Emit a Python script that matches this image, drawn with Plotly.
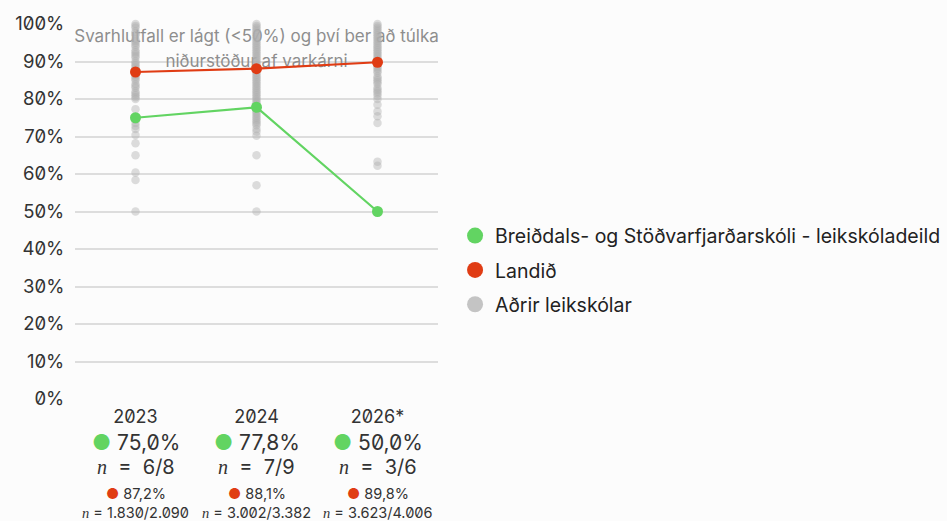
import plotly.graph_objects as go

# Survey years (2026 is preliminary)
years = ["2023", "2024", "2026*"]

# Response rate for the school and for the whole country (%)
school_rate = [75.0, 77.8, 50.0]
national_rate = [87.2, 88.1, 89.8]

# Respondents / invited, shown under each year
school_n = ["6/8", "7/9", "3/6"]
national_n = ["1.830/2.090", "3.002/3.382", "3.623/4.006"]

# Response rates of the other preschools (%)
others_2023 = [100, 99.5, 99, 98, 97.5, 97, 96, 95.5, 95, 94.5, 94, 93, 92.5, 92, 91.5,
               91, 90, 89.5, 89, 88.5, 88, 87.5, 86.5, 86, 85.5, 85, 84, 83.5, 83, 82,
               81.5, 81, 80.5, 80, 77.3, 75.2, 74.5, 73.6, 72.8, 72, 70.4, 68.2, 65,
               60.4, 58.4, 50]
others_2024 = [100, 99.5, 99, 98.5, 98, 97.5, 97, 96.5, 96, 95.5, 95, 94.5, 94, 93.5, 93,
               92.5, 92, 91.5, 91, 90.5, 90, 89.5, 89, 88.5, 88, 87.5, 87, 86.5, 86, 85.5,
               85, 84.5, 84, 83.5, 83, 82.5, 82, 81.5, 81, 80.5, 80, 79.5, 79, 78.5, 78,
               77, 76.5, 76, 75.5, 75, 74.5, 74, 73.5, 73, 72, 71.3, 70.2, 65, 57, 50]
others_2026 = [100, 99.5, 99, 98.5, 98, 97.5, 97, 96.5, 96, 95.5, 95, 94.5, 94, 93.5, 93,
               92.5, 92, 91.5, 91, 90.5, 90, 89, 88.5, 88, 87.5, 87, 86, 85.5, 85, 84.5,
               84, 83, 82.5, 82, 81.5, 80.8, 80, 78.5, 76.7, 75.4, 73.6, 63.3, 62.2]

note_lines = ["Svarhlutfall er lágt (<50%) og því ber að túlka", "niðurstöður af varkárni"]

legend_names = ["Breiðdals- og Stöðvarfjarðarskóli - leikskóladeild", "Landið", "Aðrir leikskólar"]

GREEN = "#62d462"
RED = "#e03c14"
GREY_DOT = "rgba(175,175,175,0.42)"
GREY_LEGEND = "#c4c4c4"
FONT = "Inter"
NBSP = "\u00a0"

fig = go.Figure()

# Low-response note, drawn first so the points sit on top of it
fig.add_trace(go.Scatter(
    x=[years[1]], y=[96.4], mode="text", text=[note_lines[0]],
    textfont=dict(family=FONT, size=17, color="#8e8e8e"),
    hoverinfo="skip", showlegend=False, cliponaxis=False))
fig.add_trace(go.Scatter(
    x=[years[1]], y=[89.8], mode="text", text=[note_lines[1]],
    textfont=dict(family=FONT, size=17, color="#8e8e8e"),
    hoverinfo="skip", showlegend=False, cliponaxis=False))

# Other preschools as faint dots
for yr, vals in zip(years, [others_2023, others_2024, others_2026]):
    fig.add_trace(go.Scatter(
        x=[yr] * len(vals), y=vals, mode="markers",
        marker=dict(size=8.5, color=GREY_DOT, line=dict(width=0)),
        showlegend=False, cliponaxis=False, hoverinfo="y"))

# Country and school lines
fig.add_trace(go.Scatter(
    x=years, y=national_rate, mode="lines+markers",
    line=dict(color=RED, width=2.2), marker=dict(size=11, color=RED),
    showlegend=False, cliponaxis=False))
fig.add_trace(go.Scatter(
    x=years, y=school_rate, mode="lines+markers",
    line=dict(color=GREEN, width=2.2), marker=dict(size=11, color=GREEN),
    showlegend=False, cliponaxis=False))

# Legend entries with solid swatches
for i, (name, col) in enumerate(zip(legend_names, [GREEN, RED, GREY_LEGEND])):
    fig.add_trace(go.Scatter(
        x=[None], y=[None], mode="markers", name=name,
        marker=dict(size=16, color=col), legendgroup=f"g{i}"))

# Per-year summaries under the axis
def fmt(v):
    return f"{v:.1f}".replace(".", ",") + "%"

n_span = '<span style="font-family:Liberation Serif;font-style:italic">n</span>'
wide_eq = f"{NBSP}{NBSP}={NBSP}{NBSP}"
for i, yr in enumerate(years):
    rows = [
        (f'<span style="color:{GREEN}">●</span> {fmt(school_rate[i])}', 21, -43),
        (f"{n_span}{wide_eq}{school_n[i]}", 20, -68),
        (f'<span style="color:{RED}">●</span> {fmt(national_rate[i])}', 14.5, -94),
        (f"{n_span} = {national_n[i]}", 14.5, -113),
    ]
    for txt, size, shift in rows:
        fig.add_annotation(
            x=i, xref="x", y=0, yref="paper", yanchor="middle",
            yshift=shift, text=txt, showarrow=False,
            font=dict(family=FONT, size=size, color="#333333"))

fig.update_layout(
    width=947, height=521,
    margin=dict(l=75, r=509, t=24, b=122, autoexpand=False),
    paper_bgcolor="#fcfcfc", plot_bgcolor="#fcfcfc",
    font=dict(family=FONT, color="#333333"),
    legend=dict(
        x=1.047, xanchor="left", y=0.343, yanchor="middle",
        font=dict(family=FONT, size=19.5, color="#222222"),
        tracegroupgap=6, bgcolor="rgba(0,0,0,0)"),
    xaxis=dict(
        type="category", categoryorder="array", categoryarray=years,
        range=[-0.5, 2.5], showgrid=False, zeroline=False,
        showline=False, tickfont=dict(family=FONT, size=18, color="#333333"),
        ticks="outside", ticklen=1, tickcolor="rgba(0,0,0,0)"),
    yaxis=dict(
        range=[0, 100], tickvals=list(range(0, 101, 10)),
        ticktext=[f"{v}%" for v in range(0, 101, 10)],
        showgrid=True, gridcolor="#dddddd", gridwidth=1.5,
        zeroline=False, showline=False,
        tickfont=dict(family=FONT, size=18.5, color="#333333"),
        ticks="outside", ticklen=6, tickcolor="rgba(0,0,0,0)"),
)

# Slashed zeros for the digits
css = ("var s=document.createElement('style');"
       "s.textContent='.js-plotly-plot text{font-feature-settings:\"zero\" 1;}';"
       "document.head.appendChild(s);")
fig.write_html("out.html", post_script=css)
